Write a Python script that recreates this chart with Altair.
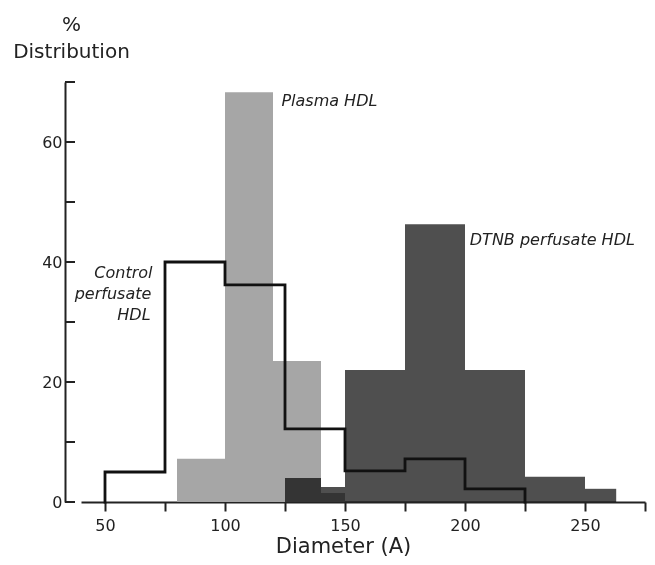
import altair as alt
import pandas as pd

# ---- data ----
plasma_lo = [80, 100, 120, 140]
plasma_hi = [100, 120, 140, 150]
plasma_val = [7.2, 68.3, 23.5, 1.5]

dtnb_lo = [125, 140, 150, 175, 200, 225, 250]
dtnb_hi = [140, 150, 175, 200, 225, 250, 263]
dtnb_val = [4.0, 2.5, 22.0, 46.3, 22.0, 4.2, 2.2]

control_edges = [50, 75, 100, 125, 150, 175, 200, 225]
control_val = [5.0, 40.0, 36.2, 12.2, 5.2, 7.2, 2.2]

x_ticks = [50, 75, 100, 125, 150, 175, 200, 225, 250, 275]
y_ticks = [0, 10, 20, 30, 40, 50, 60, 70]

left_text = ["Plasma HDL", "DTNB perfusate HDL"]
left_x = [123.5, 202]
left_y = [66.0, 42.8]

right_text = ["Control", "perfusate", "HDL"]
right_x = [69.8, 69.3, 69.0]
right_y = [37.3, 33.9, 30.3]

FONT = "DejaVu Sans"
INK = "#222222"

plasma_df = pd.DataFrame({"lo": plasma_lo, "hi": plasma_hi, "v": plasma_val})
dtnb_df = pd.DataFrame({"lo": dtnb_lo, "hi": dtnb_hi, "v": dtnb_val})

# step outline of the control histogram
pts_x, pts_y = [control_edges[0]], [0.0]
for i, v in enumerate(control_val):
    pts_x += [control_edges[i], control_edges[i + 1]]
    pts_y += [v, v]
pts_x.append(control_edges[-1])
pts_y.append(0.0)
control_df = pd.DataFrame({"x": pts_x, "y": pts_y, "i": list(range(len(pts_x)))})

ytick_df = pd.DataFrame({"t": y_ticks})
left_df = pd.DataFrame({"text": left_text, "x": left_x, "y": left_y})
right_df = pd.DataFrame({"text": right_text, "x": right_x, "y": right_y})

xscale = alt.Scale(domain=[40, 275], nice=False, zero=False)
yscale = alt.Scale(domain=[0, 70], nice=False)

x_axis = alt.Axis(
    values=x_ticks,
    labelExpr="datum.value % 50 == 0 ? datum.label : ''",
    grid=False,
    domainColor=INK, domainWidth=2,
    tickColor=INK, tickWidth=2, tickSize=9,
    labelFont=FONT, labelFontSize=16, labelColor=INK, labelPadding=6,
    title="Diameter (A)", titleFont=FONT, titleFontSize=21, titleFontWeight="normal",
    titleColor=INK, titleX=262, titleY=50, titleBaseline="alphabetic", titleAlign="center",
)
y_axis = alt.Axis(
    values=[0, 20, 40, 60],
    grid=False, ticks=False, offset=16,
    domainColor=INK, domainWidth=2,
    labelFont=FONT, labelFontSize=16, labelColor=INK, labelPadding=3,
    title=["%", "Distribution"], titleFont=FONT, titleFontSize=20, titleFontWeight="normal",
    titleColor=INK, titleAngle=0, titleX=6, titleY=-52, titleAlign="center",
    titleBaseline="alphabetic", titleLineHeight=27,
)

plasma = alt.Chart(plasma_df).mark_rect(color="#a6a6a6").encode(
    x=alt.X("lo:Q", scale=xscale, axis=x_axis),
    x2="hi:Q",
    y=alt.Y("v:Q", scale=yscale, axis=y_axis),
    y2=alt.datum(0),
)

dtnb = alt.Chart(dtnb_df).mark_rect(color="#4f4f4f", blend="multiply").encode(
    x=alt.X("lo:Q", scale=xscale),
    x2="hi:Q",
    y=alt.Y("v:Q", scale=yscale),
    y2=alt.datum(0),
)

control = alt.Chart(control_df).mark_line(
    color="#111111", strokeWidth=2.8, strokeJoin="miter", strokeCap="square"
).encode(
    x=alt.X("x:Q", scale=xscale),
    y=alt.Y("y:Q", scale=yscale),
    order="i:Q",
)

yticks = alt.Chart(ytick_df).mark_rule(color=INK, strokeWidth=2).encode(
    x=alt.value(-16), x2=alt.value(-6),
    y=alt.Y("t:Q", scale=yscale),
)

label_style = dict(font=FONT, fontSize=16, fontStyle="italic", color=INK, baseline="alphabetic")

left_labels = alt.Chart(left_df).mark_text(align="left", **label_style).encode(
    x=alt.X("x:Q", scale=xscale),
    y=alt.Y("y:Q", scale=yscale),
    text="text:N",
)
right_labels = alt.Chart(right_df).mark_text(align="right", **label_style).encode(
    x=alt.X("x:Q", scale=xscale),
    y=alt.Y("y:Q", scale=yscale),
    text="text:N",
)

chart = alt.layer(plasma, dtnb, control, yticks, left_labels, right_labels).properties(
    width=564, height=420,
    background="white",
    autosize=alt.AutoSizeParams(type="none"),
    padding={"left": 73, "top": 74, "right": 2, "bottom": 55},
).configure_view(stroke=None, strokeWidth=0)

chart.save("out.html", embed_options={"renderer": "svg", "actions": False})
